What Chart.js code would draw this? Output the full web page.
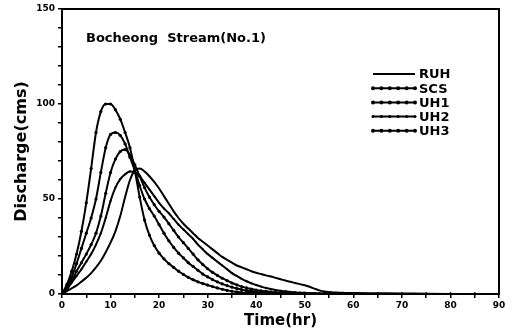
<!DOCTYPE html>
<html lang="en">
<head>
  <meta charset="UTF-8" />
  <title>Bocheong Stream (No.1)</title>
  <script src="https://cdn.jsdelivr.net/npm/chart.js"></script>
  <style>
    body { margin: 0; background: #fff; }
    #wrap { width: 512px; height: 336px; }
  </style>
</head>
<body>
  <div id="wrap"><canvas id="hydroChart"></canvas></div>

  <script>
    // time axis (hr)
    const HOURS = [
      0, 1, 2, 3, 4, 5, 6, 7, 8, 9, 10, 11, 12, 13, 14, 15, 16, 17, 18, 19,
      20, 21, 22, 23, 24, 25, 26, 27, 28, 29, 30, 31, 32, 33, 34, 35, 36, 37, 38, 39,
      40, 41, 42, 43, 44, 45, 46, 47, 48, 49, 50, 51, 52, 53, 54, 55, 56, 57, 58, 59,
      60, 65, 70, 75, 80, 85, 90
    ];

    // discharge (cms)
    const RUH = [
      0, 1.5, 3, 4.5, 6.5, 8.5, 11, 14, 17.5, 22, 27, 33, 41, 51, 60, 65, 66, 64.5, 62, 59,
      55.5, 51.5, 47.5, 43.5, 40, 37, 34.5, 32, 29.5, 27.5, 25.5, 23.5, 21.5, 19.5, 18, 16.5, 15, 14, 13, 12,
      11.2, 10.5, 9.8, 9.2, 8.5, 7.8, 7.1, 6.4, 5.8, 5.2, 4.6, 3.8, 2.8, 1.9, 1.3, 1, 0.8, 0.7, 0.6, 0.5,
      0.5, 0.4, 0.3, 0.1, 0, 0, 0
    ];
    const SCS = [
      0, 5, 12, 21, 33, 48, 66, 85, 96, 100, 100, 97, 92, 85, 77, 65, 51, 39, 31, 25.5,
      21.5, 18.5, 16, 14, 12, 10.3, 8.8, 7.5, 6.4, 5.5, 4.7, 3.9, 3.2, 2.5, 1.9, 1.4, 1.1, 0.8, 0.6, 0.5,
      0.4, 0.3, 0.3, 0.2, 0.2, 0.2, 0.1, 0.1, 0.1, 0.1, 0.1, 0, 0, 0, 0, 0, 0, 0, 0, 0,
      0, 0, 0, 0, 0, 0, 0
    ];
    const UH1 = [
      0, 4, 9, 16, 24, 32, 40, 50, 64, 77, 84, 85, 83.5, 79, 72, 65, 57, 50, 45, 41,
      36.5, 32, 28, 24.5, 21.5, 19, 16.5, 14.5, 12.5, 10.5, 9, 7.6, 6.4, 5.3, 4.4, 3.6, 2.9, 2.3, 1.8, 1.4,
      1.1, 0.9, 0.7, 0.5, 0.4, 0.3, 0.3, 0.2, 0.2, 0.1, 0.1, 0, 0, 0, 0, 0, 0, 0, 0, 0,
      0, 0, 0, 0, 0, 0, 0
    ];
    const UH2 = [
      0, 2.5, 6, 9.5, 13, 17, 21, 26, 32, 40, 49, 56, 60.5, 63, 64.5, 64, 62, 58.5, 55, 51.5,
      48, 45, 42.5, 39.5, 36.5, 34, 31.5, 29, 26, 23.5, 21, 19, 17, 15, 13, 11, 9.5, 8, 6.7, 5.6,
      4.7, 3.9, 3.2, 2.6, 2.1, 1.7, 1.4, 1.1, 0.9, 0.7, 0.6, 0.5, 0.4, 0.3, 0.3, 0.2, 0.2, 0.2, 0.1, 0.1,
      0.1, 0, 0, 0, 0, 0, 0
    ];
    const UH3 = [
      0, 3, 7, 12, 16.5, 21, 26, 32, 41, 53, 64, 71, 75, 76, 73, 68, 62, 56, 51, 47,
      43.5, 40.5, 37, 33.5, 30, 27, 24, 21, 18, 15.5, 13.3, 11.4, 9.8, 8.3, 7, 5.8, 4.8, 3.9, 3.2, 2.6,
      2.1, 1.7, 1.4, 1.1, 0.9, 0.7, 0.6, 0.5, 0.4, 0.3, 0.3, 0.2, 0.2, 0.1, 0.1, 0.1, 0.1, 0, 0, 0,
      0, 0, 0, 0, 0, 0, 0
    ];

    const SERIES = [
      { label: "RUH", values: RUH, dots: 0 },
      { label: "SCS", values: SCS, dots: 1.6 },
      { label: "UH1", values: UH1, dots: 1.6 },
      { label: "UH2", values: UH2, dots: 1.1 },
      { label: "UH3", values: UH3, dots: 1.6 }
    ];

    const FONT = "'DejaVu Sans', sans-serif";

    // box round the plot area
    const frame = {
      id: "frame",
      afterDatasetsDraw(chart) {
        const { ctx, chartArea: a } = chart;
        ctx.save();
        ctx.strokeStyle = "#000";
        ctx.lineWidth = 2;
        ctx.strokeRect(a.left, a.top, a.right - a.left, a.bottom - a.top);
        ctx.restore();
      }
    };

    // title and legend drawn inside the plot
    const insideText = {
      id: "insideText",
      afterDraw(chart) {
        const ctx = chart.ctx;
        ctx.save();
        ctx.fillStyle = "#000";
        ctx.font = "bold 13px " + FONT;
        ctx.textBaseline = "middle";
        ctx.fillText("Bocheong  Stream(No.1)", 86, 39);

        chart.data.datasets.forEach((ds, i) => {
          const y = 74 + i * 14.2;
          ctx.strokeStyle = "#000";
          ctx.lineWidth = 2;
          ctx.beginPath();
          ctx.moveTo(373, y);
          ctx.lineTo(415, y);
          ctx.stroke();
          if (ds.pointRadius > 0) {
            for (let x = 373; x <= 415; x += 8.4) {
              ctx.beginPath();
              ctx.arc(x, y, ds.pointRadius + 0.4, 0, Math.PI * 2);
              ctx.fill();
            }
          }
          ctx.fillText(ds.label, 419, y + 1);
        });
        ctx.restore();
      }
    };

    const hydroChart = new Chart(document.getElementById("hydroChart"), {
      type: "line",
      data: {
        datasets: SERIES.map(s => ({
          label: s.label,
          data: HOURS.map((h, i) => ({ x: h, y: s.values[i] })),
          borderColor: "#000",
          backgroundColor: "#000",
          borderWidth: 2,
          pointRadius: s.dots,
          pointBorderWidth: 0,
          cubicInterpolationMode: "monotone"
        }))
      },
      options: {
        responsive: true,
        maintainAspectRatio: false,
        animation: false,
        layout: { padding: { top: 9, right: 13, left: 0, bottom: 0 } },
        plugins: {
          legend: { display: false },
          tooltip: { enabled: false }
        },
        scales: {
          x: {
            type: "linear",
            min: 0,
            max: 90,
            afterFit: s => { s.height = 42; },
            ticks: {
              stepSize: 5,
              autoSkip: false,
              maxRotation: 0,
              padding: 2,
              color: "#000",
              font: { family: FONT, size: 9, weight: "bold" },
              callback: v => (v % 10 === 0 ? v : "")
            },
            grid: { drawOnChartArea: false, tickLength: 4, color: "#000", lineWidth: 1.5 },
            border: { color: "#000", width: 2 },
            title: {
              display: true,
              text: "Time(hr)",
              color: "#000",
              font: { family: FONT, size: 15, weight: "bold" },
              padding: { top: 0, bottom: 6 }
            }
          },
          y: {
            min: 0,
            max: 150,
            afterFit: s => { s.width = 62; },
            ticks: {
              stepSize: 10,
              padding: 3,
              color: "#000",
              font: { family: FONT, size: 9, weight: "bold" },
              callback: v => (v % 50 === 0 ? v : "")
            },
            grid: { drawOnChartArea: false, tickLength: 4, color: "#000", lineWidth: 1.5 },
            border: { color: "#000", width: 2 },
            title: {
              display: true,
              text: "Discharge(cms)",
              color: "#000",
              font: { family: FONT, size: 16, weight: "bold" },
              padding: { top: 12, bottom: 0 }
            }
          }
        }
      },
      plugins: [frame, insideText]
    });
  </script>
</body>
</html>
